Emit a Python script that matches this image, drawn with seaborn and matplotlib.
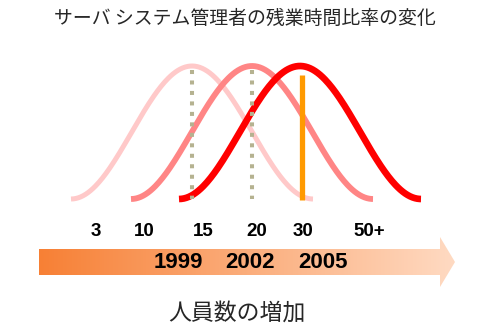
import numpy as np
import pandas as pd
import matplotlib
matplotlib.use("Agg")
import matplotlib.pyplot as plt
from matplotlib.path import Path
from matplotlib.patches import PathPatch
import seaborn as sns

sns.set_theme(style="white")
plt.rcParams["font.family"] = ["Noto Sans CJK JP", "DejaVu Sans"]

# ---- content -------------------------------------------------------------
title = "サーバ システム管理者の残業時間比率の変化"
axis_caption = "人員数の増加"
staff_labels = ["3", "10", "15", "20", "30", "50+"]
years = ["1999", "2002", "2005"]
# peak of the overtime distribution for each period (position on the staff axis)
curve_peaks = [192, 252, 300]
curve_spread = 121          # half width of each bell
curve_height = 133          # peak height above baseline
curve_colors = ["#FFC9C9", "#FF8585", "#FF0000"]
curve_widths = [3.6, 4.2, 4.8]
# markers on the staff axis: two past averages (dotted) and the current one
marker_pos = [192, 252, 302]
marker_style = ["dotted", "dotted", "solid"]

# ---- layout --------------------------------------------------------------
W, H = 492, 331
fig = plt.figure(figsize=(W / 100, H / 100), dpi=100)
ax = fig.add_axes([0, 0, 1, 1])
ax.set_xlim(0, W)
ax.set_ylim(H, 0)
ax.axis("off")

base_y = 199

# bell curves (raised cosine shape)
rows = []
for yr, c in zip(years, curve_peaks):
    xs = np.linspace(c - curve_spread, c + curve_spread, 200)
    ys = base_y - curve_height * (1 - np.cos(np.pi * (xs - c + curve_spread) / curve_spread)) / 2
    rows.append(pd.DataFrame({"x": xs, "y": ys, "year": yr}))
df = pd.concat(rows, ignore_index=True)

for yr, col, lw in zip(years, curve_colors, curve_widths):
    sub = df[df["year"] == yr]
    sns.lineplot(data=sub, x="x", y="y", ax=ax, color=col, linewidth=lw,
                 sort=False, estimator=None, legend=False,
                 solid_capstyle="butt")

# vertical reference lines
for xp, st in zip(marker_pos, marker_style):
    if st == "dotted":
        ax.plot([xp, xp], [70, 199], color="#B5B290", linewidth=2.9,
                linestyle=(0, (1.0, 1.6)), solid_capstyle="butt",
                dash_capstyle="butt", zorder=5)
    else:
        ax.plot([xp, xp], [75, 200], color="#FF9A00", linewidth=3.8,
                solid_capstyle="butt", zorder=5)

ax.set_xlim(0, W)
ax.set_ylim(H, 0)
ax.set_xlabel("")
ax.set_ylabel("")

# gradient arrow
verts = [(39, 249), (440, 249), (440, 237), (455, 262), (440, 287),
         (440, 275), (39, 275), (39, 249)]
codes = [Path.MOVETO] + [Path.LINETO] * 6 + [Path.CLOSEPOLY]
arrow = PathPatch(Path(verts, codes), facecolor="none", edgecolor="none")
ax.add_patch(arrow)
c0 = np.array([0xF7, 0x80, 0x35]) / 255
c1 = np.array([0xFF, 0xDA, 0xC2]) / 255
t = np.linspace(0, 1, 256)
grad = (c0[None, :] * (1 - t[:, None]) + c1[None, :] * t[:, None])[None, :, :]
im = ax.imshow(grad, extent=(39, 455, 287, 237), aspect="auto",
               interpolation="bilinear", zorder=2)
im.set_clip_path(arrow)

# staff count labels
label_x = [96, 144, 203, 257, 303, 369]
for lx, s in zip(label_x, staff_labels):
    ax.text(lx, 232, s, ha="center", va="center", fontsize=13.5,
            fontweight="bold", family=["Liberation Sans", "DejaVu Sans"],
            color="black")

# year labels on the arrow
year_x = [178, 250, 323]
for yx, s in zip(year_x, years):
    ax.text(yx, 263, s, ha="center", va="center", fontsize=16,
            fontweight="bold", family=["Liberation Sans", "DejaVu Sans"],
            color="black", zorder=6)

ax.text(245, 18, title, ha="center", va="center", fontsize=13.6,
        color="#262626")
ax.text(237, 313, axis_caption, ha="center", va="center", fontsize=16.5,
        color="#262626")

fig.savefig("out.png", dpi=100)
